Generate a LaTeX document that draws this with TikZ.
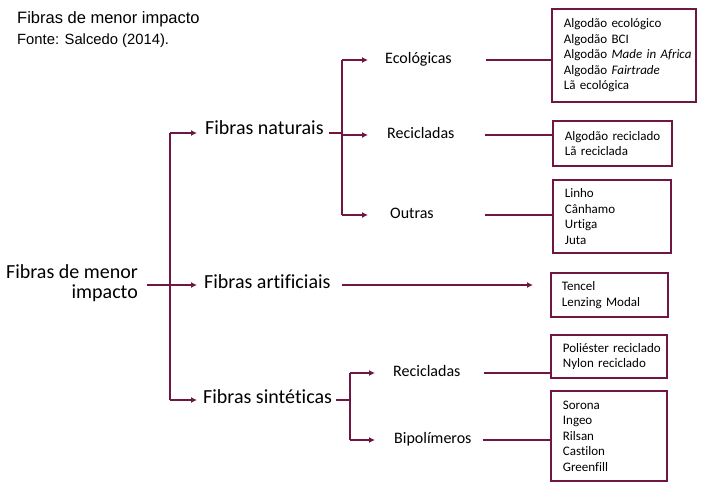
\documentclass[tikz,border=0pt]{standalone}
\usepackage{fontspec}
\setmainfont{Carlito}[Ligatures=NoCommon]
\newfontfamily\arialfont{Liberation Sans}
\usetikzlibrary{arrows.meta}
\definecolor{vinho}{RGB}{112,22,66}
\tikzset{
  fibra/.style={inner sep=0pt, anchor=west, text height=0.64em, text depth=0pt},
  nivel/.style={fibra, font=\fontsize{20}{20}\selectfont},
  tipo/.style={fibra, font=\fontsize{16}{19}\selectfont},
  lista/.style={draw=vinho, line width=1.8pt, anchor=north west, align=left,
    inner xsep=2pt, inner ysep=0pt, font=\fontsize{13}{15.5}\selectfont,
    execute at begin node={\leftskip=10pt}},
  liga/.style={draw=vinho, line width=1.8pt},
  seta/.style={liga, -{Latex[length=6pt,width=6pt]}}
}

\begin{document}
\begin{tikzpicture}[x=1pt,y=-1pt]
\useasboundingbox (0,0) rectangle (702,488);
% titulo
\node[anchor=base west, inner sep=0pt, font=\arialfont\fontsize{16.5}{18}\selectfont] (titulo) at (17,23) {Fibras de menor impacto};
\node[anchor=base west, inner sep=0pt, font=\arialfont\fontsize{14.8}{17}\selectfont] (fonte) at (17,44) {Fonte: Salcedo (2014).};
% niveis
\node[anchor=base east, align=right, inner sep=0pt, font=\fontsize{20}{20}\selectfont] (raiz) at (138,298) {Fibras de menor\\impacto};
\node[nivel] (nat) at (205,131) {Fibras naturais};
\node[nivel] (art) at (204,285) {Fibras artificiais};
\node[nivel] (sin) at (203,400) {Fibras sintéticas};
\node[tipo] (eco) at (385,60) {Ecológicas};
\node[tipo] (rec1) at (387,135) {Recicladas};
\node[tipo] (out) at (390,215) {Outras};
\node[tipo] (rec2) at (393,373) {Recicladas};
\node[tipo] (bip) at (394,440) {Bipolímeros};
% caixas
\node[lista, text width=140pt, minimum height=93pt] (caixa-eco) at (551,8) {Algodão ecológico\\Algodão BCI\\Algodão \textit{Made in Africa}\\Algodão \textit{Fairtrade}\\Lã ecológica};
\node[lista, text width=115pt, minimum height=45pt] (caixa-rec1) at (552,120) {Algodão reciclado\\Lã reciclada};
\node[lista, text width=114pt, minimum height=73pt] (caixa-out) at (552,179) {Linho\\Cânhamo\\Urtiga\\Juta};
\node[lista, text width=113pt, minimum height=44pt, execute at begin node={\leftskip=9pt}] (caixa-art) at (550,272) {Tencel\\Lenzing Modal};
\node[lista, text width=112pt, minimum height=43pt] (caixa-rec2) at (550,334) {Poliéster reciclado\\Nylon reciclado};
\node[lista, text width=112pt, minimum height=90pt] (caixa-bip) at (550,390) {Sorona\\Ingeo\\Rilsan\\Castilon\\Greenfill};
% ramos da raiz
\coordinate (tronco-a) at (170,133);
\coordinate (tronco-b) at (170,400);
\draw[liga] (tronco-a) -- (tronco-b);
\draw[seta, shorten >=8pt] (tronco-a) -- (tronco-a -| nat.west);
\draw[seta, shorten <=9pt, shorten >=7pt] (raiz.east |- art.west) -- (art.west);
\draw[seta, shorten >=6pt] (tronco-b) -- (tronco-b -| sin.west);
% fibras naturais
\coordinate (nat-a) at (342,60);
\coordinate (nat-b) at (342,215);
\draw[liga, shorten <=5pt] (nat.east |- tronco-a) -- (tronco-a -| nat-a);
\draw[liga] (nat-a) -- (nat-b);
\draw[seta, shorten >=17pt] (nat-a) -- (eco.west);
\draw[seta, shorten >=19pt] (nat-a |- rec1.west) -- (rec1.west);
\draw[seta, shorten >=22pt] (nat-b) -- (out.west);
\draw[liga, shorten <=34pt] (eco.east) -- (eco.east -| caixa-eco.west);
\draw[liga, shorten <=30pt] (rec1.east) -- (rec1.east -| caixa-rec1.west);
\draw[liga, shorten <=51pt] (out.east) -- (out.east -| caixa-out.west);
% fibras artificiais
\draw[seta, shorten <=11pt, shorten >=17pt] (art.east) -- (art.east -| caixa-art.west);
% fibras sinteticas
\coordinate (sin-a) at (350,373);
\coordinate (sin-b) at (350,440);
\draw[liga, shorten <=4pt] (sin.east) -- (sin.east -| sin-a);
\draw[liga] (sin-a) -- (sin-b);
\draw[seta, shorten >=18pt] (sin-a) -- (rec2.west);
\draw[seta, shorten >=19pt] (sin-b) -- (bip.west);
\draw[liga, shorten <=23pt] (rec2.east) -- (rec2.east -| caixa-rec2.west);
\draw[liga, shorten <=11pt] (bip.east) -- (bip.east -| caixa-bip.west);
\end{tikzpicture}
\end{document}
